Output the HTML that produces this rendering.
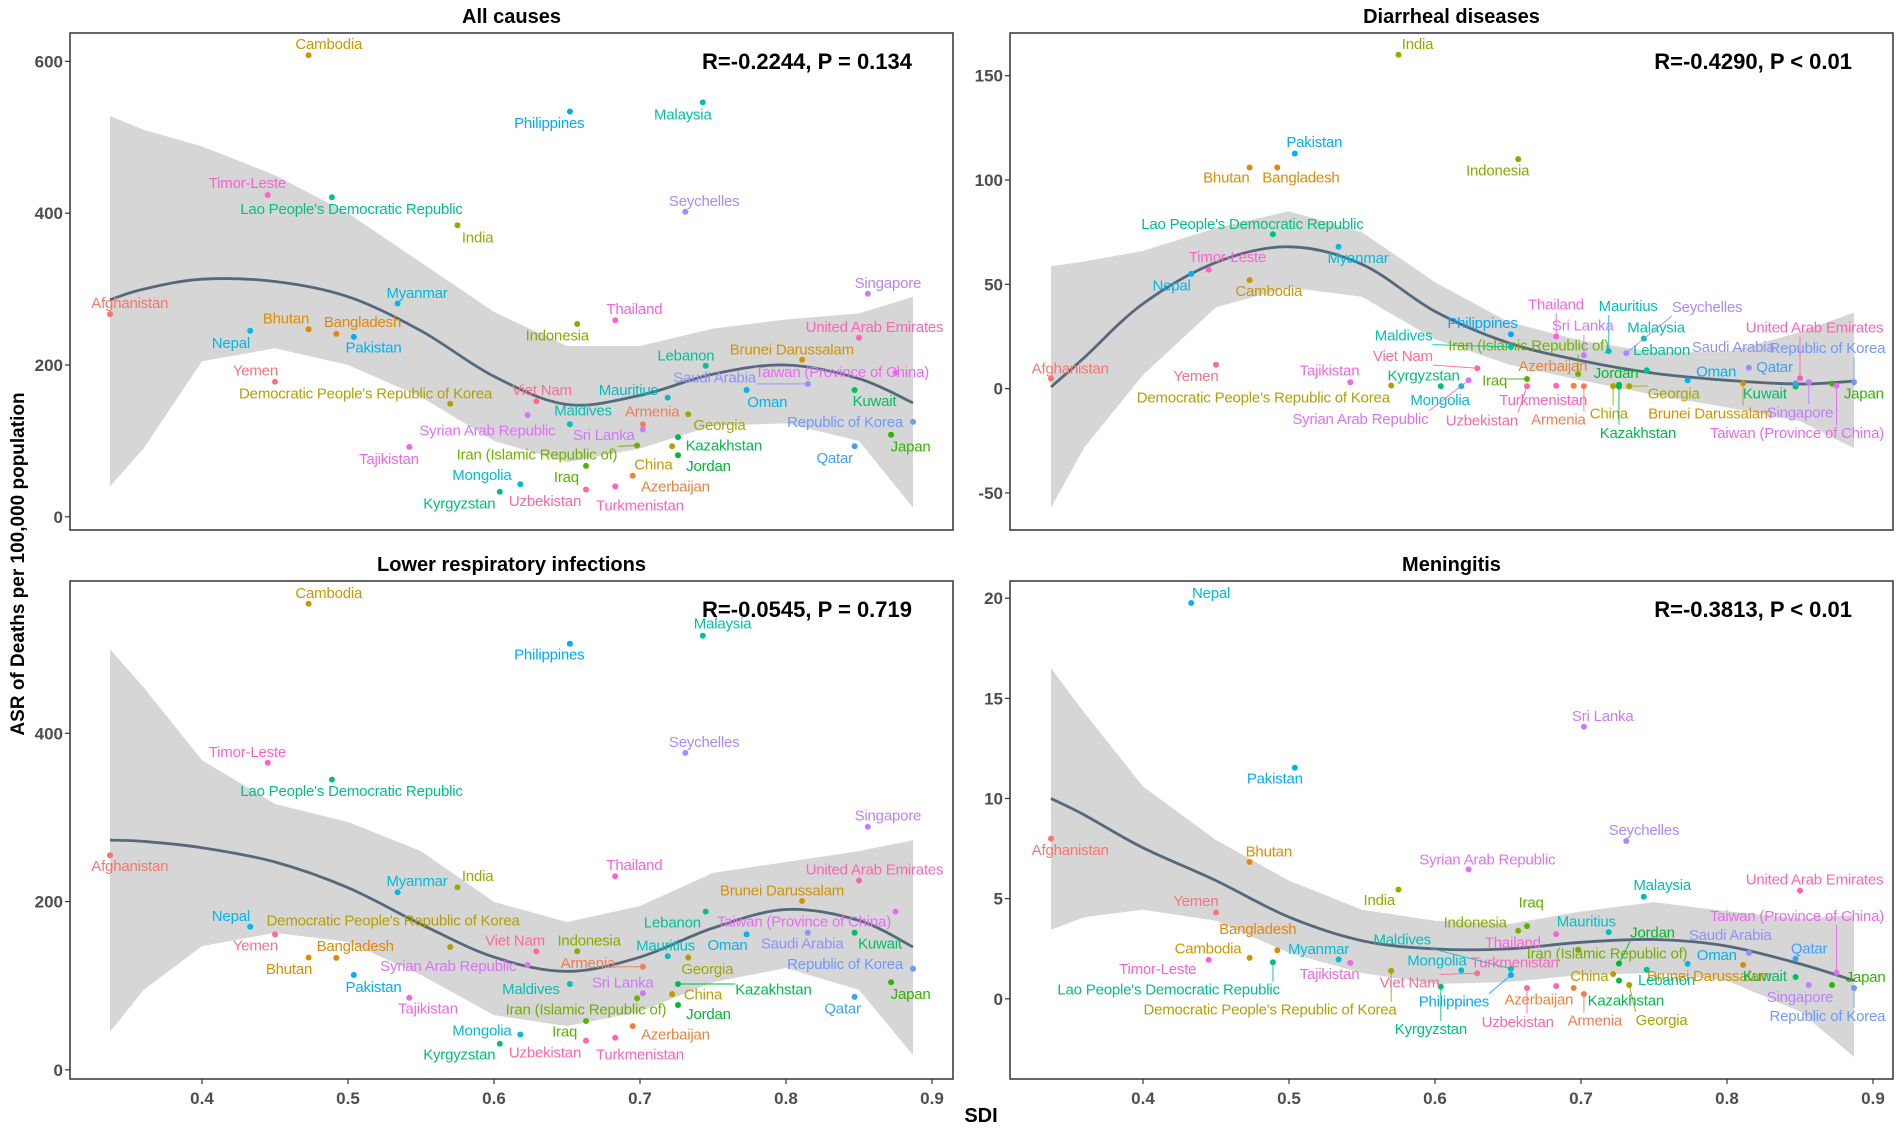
<!DOCTYPE html>
<html><head><meta charset="utf-8">
<style>
html,body{margin:0;padding:0;background:#fff;}
svg{display:block;font-family:"Liberation Sans",Arial,sans-serif;}
</style></head>
<body>
<svg id="chart" width="1902" height="1131" viewBox="0 0 1902 1131" xmlns="http://www.w3.org/2000/svg">
<text x="0" y="0" transform="translate(24,564) rotate(-90)" text-anchor="middle" font-size="19" font-weight="bold" fill="#000">ASR of Deaths per 100,000 population</text>
<text x="981" y="1122" text-anchor="middle" font-size="20" font-weight="bold" fill="#000">SDI</text>
</svg>
<script>
const countries = ["Afghanistan","Armenia","Azerbaijan","Bangladesh","Bhutan","Brunei Darussalam","Cambodia","China","Democratic People's Republic of Korea","Georgia","India","Indonesia","Iran (Islamic Republic of)","Iraq","Japan","Jordan","Kazakhstan","Kuwait","Kyrgyzstan","Lao People's Democratic Republic","Lebanon","Malaysia","Maldives","Mauritius","Mongolia","Myanmar","Nepal","Oman","Pakistan","Philippines","Qatar","Republic of Korea","Saudi Arabia","Seychelles","Singapore","Sri Lanka","Syrian Arab Republic","Taiwan (Province of China)","Tajikistan","Thailand","Timor-Leste","Turkmenistan","United Arab Emirates","Uzbekistan","Viet Nam","Yemen"];
const sdi = [0.337,0.702,0.695,0.492,0.473,0.811,0.473,0.722,0.570,0.733,0.575,0.657,0.698,0.663,0.872,0.726,0.726,0.847,0.604,0.489,0.745,0.743,0.652,0.719,0.618,0.534,0.433,0.773,0.504,0.652,0.847,0.887,0.815,0.731,0.856,0.702,0.623,0.875,0.542,0.683,0.445,0.683,0.850,0.663,0.629,0.450];
const allCauses = [267,122,54,241,247,207,608,93,149,135,384,254,94,67,108,81,105,167,33,421,199,546,122,157,43,281,245,167,237,534,93,125,175,402,294,115,134,190,92,259,424,40,236,36,152,178];
const diarrheal = [4.8,1.2,1.4,106,106,2.5,52,1.2,1.5,1.2,160,110,7,4.6,2.4,1,1.8,1,1.2,74,8.8,24,20,18,1.2,68,55,4,112.7,26,2.5,3,10,17,3,16,4,1.4,3,25,57,1.4,5,1.2,9.8,11.5];
const lri = [255,122.5,52,133,133.5,200.7,554,90,146,133.5,217,141,85,58,104,77,102,163,31,345,188,516,102,135,42,211,170,161,112.7,506.5,86.6,120,163,376.7,289,91,124.6,188,85.7,230,365,38,225,34.6,140.7,161];
const meningitis = [8.0,0.24,0.54,2.42,6.83,1.69,2.04,1.24,1.4,0.69,5.45,3.4,2.45,3.63,0.69,1.76,0.91,1.09,0.6,1.82,1.45,5.09,1.5,3.33,1.42,1.96,19.76,1.74,11.54,1.19,2.0,0.54,2.29,7.88,0.69,13.58,6.46,1.3,1.79,3.23,1.94,0.64,5.4,0.54,1.27,4.31];
// loess fit and 95% CI at these SDI grid points
const smoothGrid = [0.337,0.36,0.40,0.45,0.50,0.55,0.60,0.65,0.70,0.75,0.80,0.85,0.887];
const fitAll = [286,300,313,310,290,245,185,148,160,188,200,182,150];
const upperAll = [528,510,488,450,400,335,270,225,225,248,260,268,290];
const lowerAll = [40,90,205,222,200,158,100,72,90,120,123,100,12];
const fitDia = [0.8,15,40.7,60.5,68,59.6,37,22,13.4,7.4,4,2.2,3.6];
const upperDia = [58.7,61,66,77,85,75,51,32,23,17.5,17.5,27,36.5];
const lowerDia = [-57,-28,6.5,39,48.5,44,23.7,11.7,4,-3,-9,-15.6,-28.5];
const fitLri = [273,271.5,264,247,216.5,173,134,117,134,168.6,190.5,177.5,146];
const upperLri = [500,454.6,368,316,294.6,260,199.6,175.7,194.7,234,247,260,273];
const lowerLri = [45,95,147,162.7,152,112.7,65,52,69,104,121,95,17.6];
const fitMen = [10.0,9.17,7.54,5.9,4.08,2.9,2.49,2.49,2.82,2.96,2.63,1.74,0.91];
const upperMen = [16.5,14.27,10.6,7.93,5.9,4.45,3.9,3.73,4.36,4.83,4.37,4.0,4.18];
const lowerMen = [3.45,4.08,4.45,3.9,2.29,1.29,0.74,0.84,1.19,1.29,0.91,-0.64,-2.9];
const titles = ["All causes","Diarrheal diseases","Lower respiratory infections","Meningitis"];
const statTexts = ["R=-0.2244, P = 0.134","R=-0.4290, P < 0.01","R=-0.0545, P = 0.719","R=-0.3813, P < 0.01"];
const yTicks = [[0,200,400,600],[-50,0,50,100,150],[0,200,400],[0,5,10,15,20]];
const xTicks = [0.4,0.5,0.6,0.7,0.8,0.9];

// label layout (pixel positions from the rendered reference, panel-local zoom coordinates)
const labelPos = [
 [[212,848],[1065,1152],[1103,1362],[592,902],[467,892],[1293,978],[537,123],[1067,1300],[597,1102],[1175,1190],[780,665],[910,940],[877,1272],[925,1335],[1487,1250],[1157,1305],[1182,1248],[1428,1123],[750,1410],[574,585],[1120,995],[1115,320],[952,1150],[1026,1092],[787,1330],[681,820],[377,960],[1253,1125],[610,973],[897,345],[1363,1282],[1380,1182],[1167,1057],[1150,563],[1450,792],[986,1218],[796,1205],[1375,1042],[635,1285],[1036,865],[404,513],[1045,1415],[1428,915],[890,1403],[885,1092],[417,1038]],
 [[198,1032],[1002,1175],[993,1025],[578,497],[455,497],[1252,1158],[525,815],[1085,1158],[516,1113],[1192,1102],[770,123],[902,477],[953,967],[897,1065],[1505,1102],[1097,1045],[1133,1212],[1342,1102],[780,1052],[498,627],[1172,980],[1163,917],[747,940],[1117,857],[807,1120],[672,722],[365,800],[1262,1040],[600,398],[877,905],[1358,1028],[1445,975],[1290,972],[1247,860],[1400,1155],[1042,912],[676,1173],[1395,1213],[625,1038],[998,852],[457,720],[977,1120],[1424,917],[876,1177],[746,997],[405,1053]],
 [[212,840],[960,1107],[1103,1303],[580,1060],[472,1123],[1277,907],[537,90],[1148,1193],[642,990],[1155,1123],[780,868],[962,1045],[957,1235],[922,1295],[1487,1192],[1157,1247],[1263,1180],[1437,1053],[750,1358],[574,635],[1098,995],[1180,175],[867,1178],[1087,1058],[787,1292],[681,882],[377,977],[1188,1057],[610,1172],[897,260],[1376,1232],[1380,1110],[1310,1053],[1150,500],[1450,702],[1017,1160],[732,1115],[1313,993],[699,1232],[1036,837],[404,527],[1045,1358],[1428,850],[890,1353],[841,1045],[417,1058]],
 [[198,797],[1062,1265],[970,1207],[507,1013],[525,800],[1250,1143],[425,1067],[1053,1143],[527,1235],[1172,1263],[707,933],[865,995],[1082,1080],[957,940],[1508,1145],[1157,1023],[1113,1210],[1342,1143],[792,1288],[360,1180],[1180,1153],[1173,893],[745,1042],[1048,992],[802,1100],[607,1068],[430,90],[1263,1085],[535,600],[830,1213],[1415,1067],[1445,1252],[1285,1030],[1143,742],[1400,1200],[1075,428],[885,822],[1395,977],[625,1137],[927,1050],[342,1123],[930,1105],[1424,878],[935,1268],[757,1160],[405,937]]
];

function hcl(h,c,l){
  const Xn=95.047,Yn=100,Zn=108.883;
  const hr=h*Math.PI/180, u=c*Math.cos(hr), v=c*Math.sin(hr);
  const Y=Yn*Math.pow((l+16)/116,3);
  const den=Xn+15*Yn+3*Zn, un=4*Xn/den, vn=9*Yn/den;
  const up=u/(13*l)+un, vp=v/(13*l)+vn;
  const X=Y*9*up/(4*vp), Z=Y*(12-3*up-20*vp)/(4*vp);
  const x=X/100,y=Y/100,z=Z/100;
  let r=3.2404542*x-1.5371385*y-0.4985314*z;
  let g=-0.9692660*x+1.8760108*y+0.0415560*z;
  let b=0.0556434*x-0.2040259*y+1.0572252*z;
  const gm=t=>{t=t<=0.0031308?12.92*t:1.055*Math.pow(t,1/2.4)-0.055;return Math.round(Math.max(0,Math.min(1,t))*255);};
  return "rgb("+gm(r)+","+gm(g)+","+gm(b)+")";
}
const n=countries.length;
const colors=countries.map((_,i)=>hcl(15+360*i/n,100,65));

const NS="http://www.w3.org/2000/svg";
const svg=document.getElementById("chart");
function mk(tag,attrs,parent){const e=document.createElementNS(NS,tag);for(const k in attrs)e.setAttribute(k,attrs[k]);(parent||svg).appendChild(e);return e;}

const panels=[
 {x0:70,x1:953,y0:33,y1:530,xa:202,ya:[0,516.8],yb:[600,61.4],vals:allCauses,fit:fitAll,up:upperAll,lo:lowerAll,lx:z=>z/1.633,ly:z=>z/2.8,key:"all-causes"},
 {x0:1010,x1:1893,y0:33,y1:530,xa:1143,ya:[0,388.6],yb:[150,75.7],vals:diarrheal,fit:fitDia,up:upperDia,lo:lowerDia,lx:z=>950+z/1.647,ly:z=>z/2.8,key:"diarrheal"},
 {x0:70,x1:953,y0:581,y1:1079,xa:202,ya:[0,1069.8],yb:[400,733.3],vals:lri,fit:fitLri,up:upperLri,lo:lowerLri,lx:z=>z/1.633,ly:z=>560+z/2.746,key:"lri"},
 {x0:1010,x1:1893,y0:581,y1:1079,xa:1143,ya:[0,998.8],yb:[20,598.2],vals:meningitis,fit:fitMen,up:upperMen,lo:lowerMen,lx:z=>950+z/1.647,ly:z=>560+z/2.746,key:"meningitis"}
];

panels.forEach((p,pi)=>{
  const xs=v=>p.xa+(v-0.4)*1460;
  const ys=v=>p.ya[1]+(v-p.ya[0])*(p.yb[1]-p.ya[1])/(p.yb[0]-p.ya[0]);
  const g=mk("g",{});
  
  
  const cx=(p.x0+p.x1)/2;
  const t=mk("text",{x:cx,y:p.y0-10,"text-anchor":"middle","font-size":20,"font-weight":"bold",fill:"#000"},g);
  t.textContent=titles[pi];
  
  
  let d="";
  smoothGrid.forEach((s,i)=>{d+=(i?"L":"M")+xs(s).toFixed(1)+","+ys(p.up[i]).toFixed(1);});
  for(let i=smoothGrid.length-1;i>=0;i--)d+="L"+xs(smoothGrid[i]).toFixed(1)+","+ys(p.lo[i]).toFixed(1);
  const band=mk("path",{d:d+"Z",fill:"#d6d6d6",stroke:"none"},g);
  
  
  const pts=smoothGrid.map((s,i)=>[xs(s),ys(p.fit[i])]);
  let cd="M"+pts[0][0]+","+pts[0][1];
  for(let i=0;i<pts.length-1;i++){
    const p0=pts[Math.max(0,i-1)],p1=pts[i],p2=pts[i+1],p3=pts[Math.min(pts.length-1,i+2)];
    const c1=[p1[0]+(p2[0]-p0[0])/6,p1[1]+(p2[1]-p0[1])/6],c2=[p2[0]-(p3[0]-p1[0])/6,p2[1]-(p3[1]-p1[1])/6];
    cd+="C"+c1[0].toFixed(1)+","+c1[1].toFixed(1)+" "+c2[0].toFixed(1)+","+c2[1].toFixed(1)+" "+p2[0].toFixed(1)+","+p2[1].toFixed(1);
  }
  const line=mk("path",{d:cd,fill:"none",stroke:"#56697c","stroke-width":2.8},g);
  
  
  sdi.forEach((s,i)=>{
    const px=xs(s),py=ys(p.vals[i]);
    const lp=labelPos[pi][i];
    const lxp=p.lx(lp[0]),lyp=p.ly(lp[1]);
    const lab=mk("text",{x:lxp.toFixed(1),y:(lyp+5).toFixed(1),"text-anchor":"middle","font-size":15,"font-weight":"500",fill:colors[i],"letter-spacing":"-0.2"},g);
    lab.textContent=countries[i];
    
    
    const bb=lab.getBBox();
    const qx=Math.max(bb.x,Math.min(px,bb.x+bb.width)),qy=Math.max(bb.y,Math.min(py,bb.y+bb.height));
    const dist=Math.hypot(qx-px,qy-py);
    if(dist>18){
      const seg=mk("line",{x1:px,y1:py,x2:qx,y2:qy,stroke:colors[i],"stroke-width":0.9},g);
      
      
    }
    const c=mk("circle",{cx:px.toFixed(1),cy:py.toFixed(1),r:3,fill:colors[i]},g);
    
    
  });
  const rect=mk("rect",{x:p.x0,y:p.y0,width:p.x1-p.x0,height:p.y1-p.y0,fill:"none",stroke:"#333","stroke-width":1.5},g);
  
  
  yTicks[pi].forEach(v=>{
    const y=ys(v);
    const tk=mk("line",{x1:p.x0-5,x2:p.x0,y1:y,y2:y,stroke:"#333","stroke-width":1.2},g);
    
    
    const tl=mk("text",{x:p.x0-7,y:y+6,"text-anchor":"end","font-size":17,"font-weight":"bold",fill:"#4d4d4d"},g);
    tl.textContent=String(v);
    
    
  });
  if(pi>=2){
    xTicks.forEach(v=>{
      const x=xs(v);
      const tk=mk("line",{x1:x,x2:x,y1:p.y1,y2:p.y1+5,stroke:"#333","stroke-width":1.2},g);
      
      
      const tl=mk("text",{x:x,y:p.y1+25,"text-anchor":"middle","font-size":17,"font-weight":"bold",fill:"#4d4d4d"},g);
      tl.textContent=String(v);
      
      
    });
  }
  const st=mk("text",{x:p.x1-41,y:p.y0+36,"text-anchor":"end","font-size":22,"font-weight":"bold",fill:"#000"},g);
  st.textContent=statTexts[pi];
  
  
});
</script>
</body></html>
